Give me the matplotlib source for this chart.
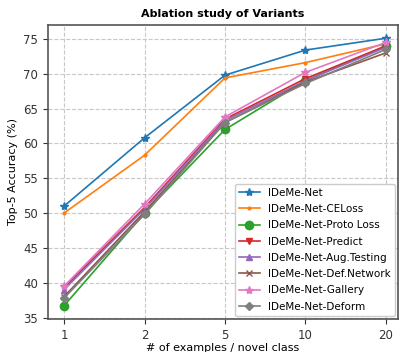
import matplotlib
matplotlib.use("Agg")
import matplotlib.pyplot as plt

x_labels = ["1", "2", "5", "10", "20"]
series_names = ["IDeMe-Net", "IDeMe-Net-CELoss", "IDeMe-Net-Proto Loss", "IDeMe-Net-Predict",
                "IDeMe-Net-Aug.Testing", "IDeMe-Net-Def.Network", "IDeMe-Net-Gallery", "IDeMe-Net-Deform"]
ideme = [51.0, 60.8, 69.8, 73.4, 75.1]
celoss = [50.0, 58.3, 69.4, 71.6, 74.3]
proto = [36.7, 50.0, 62.0, 69.0, 74.0]
predict = [39.3, 50.8, 63.5, 69.3, 74.0]
aug = [39.0, 50.6, 63.3, 69.0, 73.8]
defnet = [38.0, 50.2, 63.0, 68.8, 73.0]
gallery = [39.5, 51.3, 63.8, 70.2, 74.5]
deform = [37.8, 49.8, 63.0, 68.6, 73.5]
all_series = [ideme, celoss, proto, predict, aug, defnet, gallery, deform]

colors = ["#1f77b4", "#ff7f0e", "#2ca02c", "#d62728", "#9467bd", "#8c564b", "#e377c2", "#7f7f7f"]
markers = ["*", ".", "o", "v", "^", "x", "*", "D"]
msizes = [6, 4, 6, 5, 5, 5, 6, 4]

fig = plt.figure(figsize=(4.0, 3.52), dpi=100)
ax = fig.add_axes([0.12, 0.094, 0.875, 0.835])
xs = list(range(len(x_labels)))
for name, ys, c, m, ms in zip(series_names, all_series, colors, markers, msizes):
    ax.plot(xs, ys, color=c, marker=m, markersize=ms, linewidth=1.2, label=name)

ax.set_xticks(xs)
ax.set_xticklabels(x_labels)
ax.set_xlim(-0.2, 4.15)
ax.set_ylim(34.8, 77)
ax.set_yticks([35, 40, 45, 50, 55, 60, 65, 70, 75])
ax.grid(True, linestyle="--", color="#c8c8c8", linewidth=0.8)
ax.tick_params(labelsize=8.5, colors="#333333")
for s in ax.spines.values():
    s.set_color("#555555")
    s.set_linewidth(1.2)
ax.set_title("Ablation study of Variants", fontsize=8, fontweight="bold", pad=6)
ax.set_xlabel("# of examples / novel class", fontsize=8, labelpad=1)
ax.set_ylabel("Top-5 Accuracy (%)", fontsize=8)
ax.legend(loc="lower right", fontsize=7.5, labelspacing=0.6, handlelength=2.0, framealpha=1.0,
          edgecolor="#cccccc", borderaxespad=0.3)
fig.savefig("out.png", dpi=100)
